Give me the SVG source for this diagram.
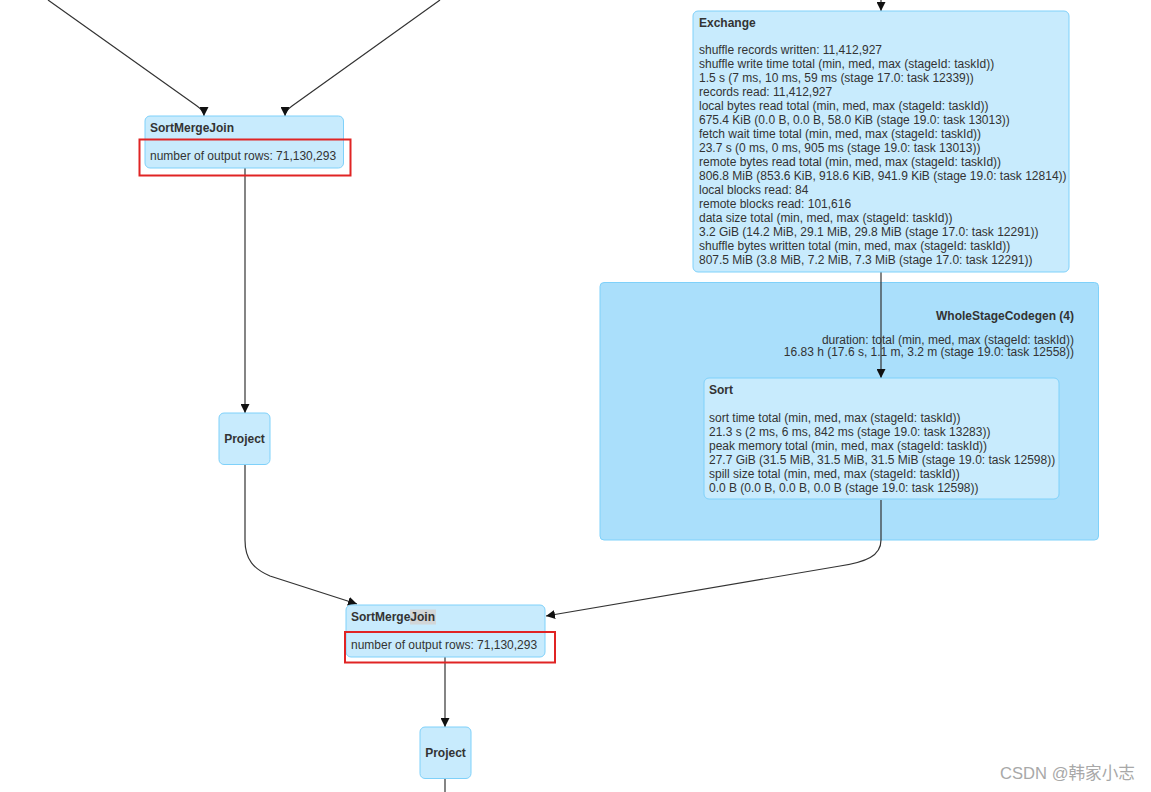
<svg xmlns="http://www.w3.org/2000/svg" width="1151" height="792" viewBox="0 0 1151 792">
<style>
text{font-family:"Liberation Sans",Arial,sans-serif;font-size:12px;fill:#333}
.t{font-weight:bold}
.node{fill:#C8EBFD;stroke:#7FD1FA;stroke-width:1}
.cluster{fill:#AADFFB;stroke:#7FD1FA;stroke-width:1}
.edge{fill:none;stroke:#333;stroke-width:1.2}
.arr{marker-end:url(#ah)}
.hl{fill:none;stroke:#E02424;stroke-width:2}
.c{text-anchor:middle}
.e{text-anchor:end}
</style>
<defs>
<marker id="ah" viewBox="0 0 10 10" refX="10" refY="5" markerUnits="userSpaceOnUse" markerWidth="9" markerHeight="9" orient="auto">
<path d="M0,0 L10,5 L0,10 z" fill="#111"/>
</marker>
</defs>
<rect width="1151" height="792" fill="#fff"/>

<g id="cluster-wsc">
<rect class="cluster" x="600" y="282.5" width="498.5" height="257.5" rx="4"/>
<text class="t e" x="1074" y="320">WholeStageCodegen (4)</text>
<text class="e" x="1074" y="344">duration: total (min, med, max (stageId: taskId))</text>
<text class="e" x="1074" y="356">16.83 h (17.6 s, 1.1 m, 3.2 m (stage 19.0: task 12558))</text>
</g>

<g id="connectors">
<path class="edge arr" d="M48,0 L197,106 Q204,111 204,116"/>
<path class="edge arr" d="M440,0 L292,106 Q285,111 285,116"/>
<path class="edge arr" d="M881,0 L881,11"/>
<path class="edge arr" d="M245,168 L245,413"/>
<path class="edge arr" d="M245,465 L245,540 C245,560 254,569 270,576 L357,604"/>
<path class="edge arr" d="M881,272 L881,378"/>
<path class="edge arr" d="M881,500 L881,540 C881,556 866,562 840,566 L546,616"/>
<path class="edge arr" d="M445,657 L445,727"/>
<path class="edge" d="M445,778 L445,792"/>
</g>

<g id="node-smj1">
<rect class="node" x="145" y="116" width="198.5" height="52" rx="5"/>
<text class="t" x="150" y="132">SortMergeJoin</text>
<text x="150" y="160">number of output rows: 71,130,293</text>
</g>

<g id="node-project1">
<rect class="node" x="219" y="413" width="51" height="51.5" rx="5"/>
<text class="t c" x="244.5" y="443">Project</text>
</g>

<g id="node-exchange">
<rect class="node" x="693" y="11" width="376" height="261" rx="5"/>
<text class="t" x="699" y="27">Exchange</text>
<text x="699" y="54">shuffle records written: 11,412,927</text>
<text x="699" y="68">shuffle write time total (min, med, max (stageId: taskId))</text>
<text x="699" y="82">1.5 s (7 ms, 10 ms, 59 ms (stage 17.0: task 12339))</text>
<text x="699" y="96">records read: 11,412,927</text>
<text x="699" y="110">local bytes read total (min, med, max (stageId: taskId))</text>
<text x="699" y="124">675.4 KiB (0.0 B, 0.0 B, 58.0 KiB (stage 19.0: task 13013))</text>
<text x="699" y="138">fetch wait time total (min, med, max (stageId: taskId))</text>
<text x="699" y="152">23.7 s (0 ms, 0 ms, 905 ms (stage 19.0: task 13013))</text>
<text x="699" y="166">remote bytes read total (min, med, max (stageId: taskId))</text>
<text x="699" y="180">806.8 MiB (853.6 KiB, 918.6 KiB, 941.9 KiB (stage 19.0: task 12814))</text>
<text x="699" y="194">local blocks read: 84</text>
<text x="699" y="208">remote blocks read: 101,616</text>
<text x="699" y="222">data size total (min, med, max (stageId: taskId))</text>
<text x="699" y="236">3.2 GiB (14.2 MiB, 29.1 MiB, 29.8 MiB (stage 17.0: task 12291))</text>
<text x="699" y="250">shuffle bytes written total (min, med, max (stageId: taskId))</text>
<text x="699" y="264">807.5 MiB (3.8 MiB, 7.2 MiB, 7.3 MiB (stage 17.0: task 12291))</text>
</g>

<g id="node-sort">
<rect class="node" x="704" y="378" width="355" height="121" rx="5"/>
<text class="t" x="709" y="394">Sort</text>
<text x="709" y="422">sort time total (min, med, max (stageId: taskId))</text>
<text x="709" y="436">21.3 s (2 ms, 6 ms, 842 ms (stage 19.0: task 13283))</text>
<text x="709" y="450">peak memory total (min, med, max (stageId: taskId))</text>
<text x="709" y="464">27.7 GiB (31.5 MiB, 31.5 MiB, 31.5 MiB (stage 19.0: task 12598))</text>
<text x="709" y="478">spill size total (min, med, max (stageId: taskId))</text>
<text x="709" y="492">0.0 B (0.0 B, 0.0 B, 0.0 B (stage 19.0: task 12598))</text>
</g>

<g id="node-smj2">
<rect class="node" x="346" y="605" width="199" height="52" rx="5"/>
<rect x="410" y="609.5" width="26" height="15" fill="#D2D6D8"/>
<text class="t" x="351" y="621">SortMergeJoin</text>
<text x="351" y="649">number of output rows: 71,130,293</text>
</g>

<g id="node-project2">
<rect class="node" x="420" y="727" width="51" height="51.5" rx="5"/>
<text class="t c" x="445.5" y="757">Project</text>
</g>

<g id="highlights">
<rect class="hl" x="139.5" y="139.5" width="211" height="36"/>
<rect class="hl" x="345" y="632" width="210" height="30.5"/>
</g>

<text x="1000" y="779" style="font-family:'Liberation Sans','Noto Sans CJK SC',sans-serif;font-size:16.6px;fill:#A8A8A8">CSDN @韩家小志</text>
</svg>
